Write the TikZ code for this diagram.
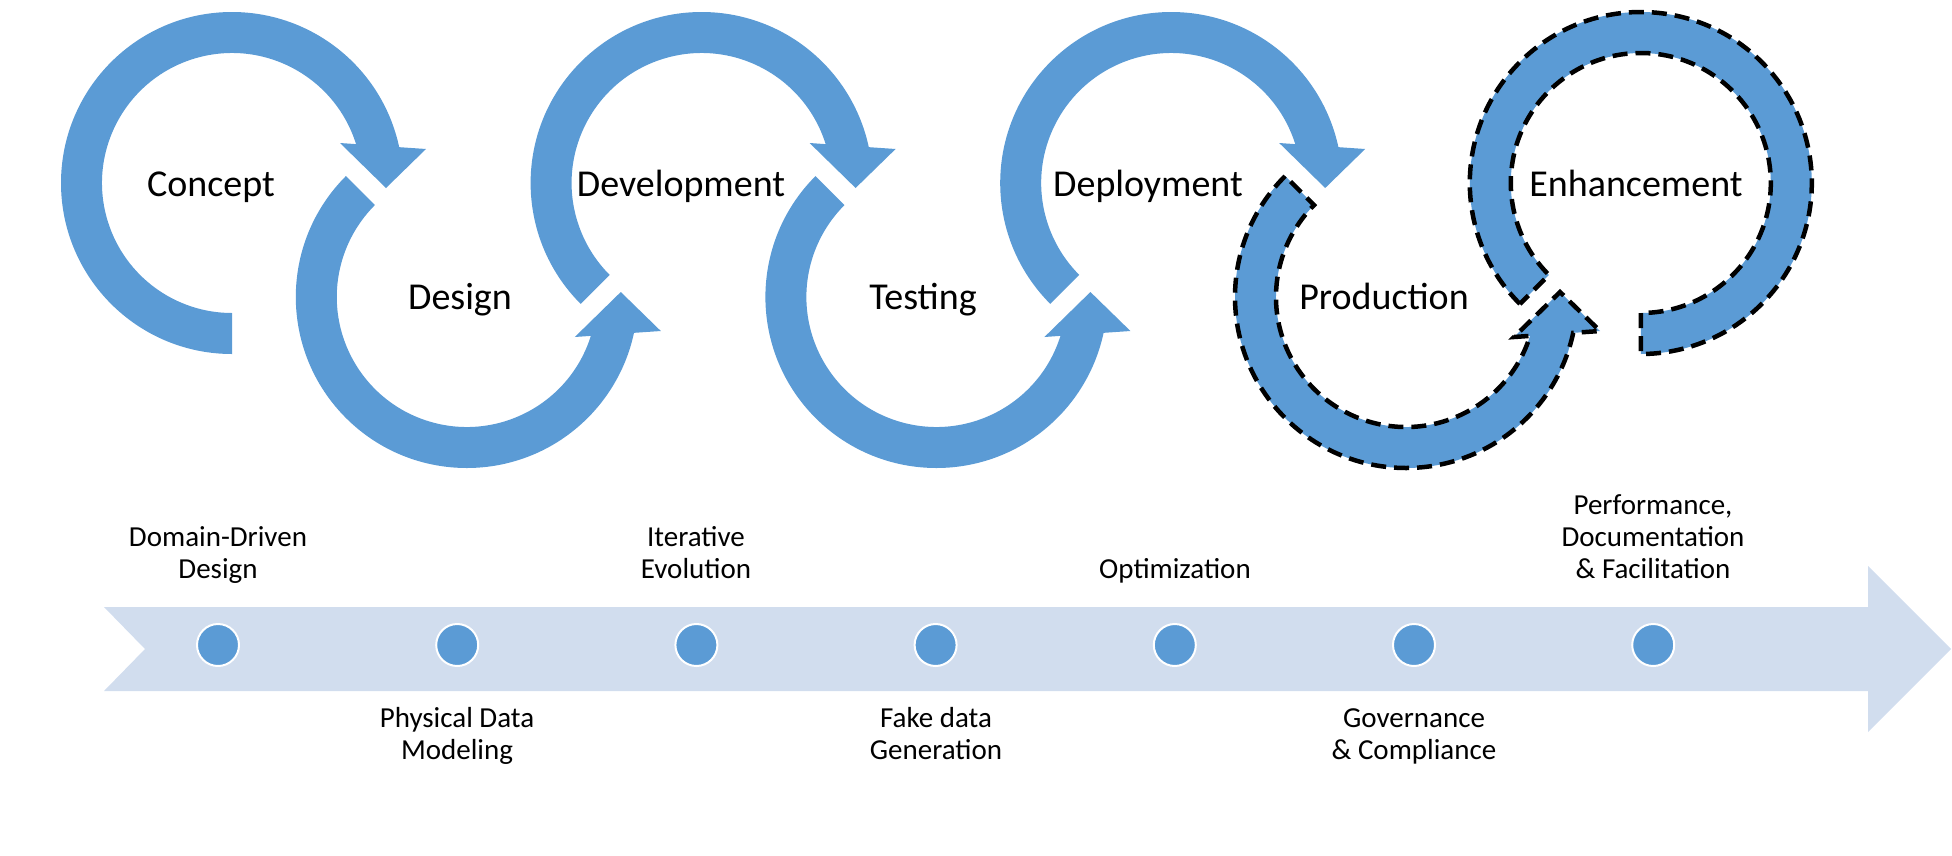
\documentclass[tikz,border=0pt]{standalone}
\usepackage{fontspec}
\setmainfont{Carlito}
\definecolor{ringblue}{HTML}{5B9BD5}
\definecolor{lineblue}{HTML}{D1DDEE}
% one ring with its head, drawn round the origin, start angle as argument
\newcommand\headring[1]{(#1:171) arc[start angle=#1,end angle=12.1,radius=171]
  -- (194,34) -- (154,-5) -- (108,40) -- (17.4:130)
  arc[start angle=17.4,end angle=#1,radius=130] -- cycle}
\begin{document}
\begin{tikzpicture}[x=1pt,y=1pt,line join=miter,
  ring/.style={fill=ringblue},
  dashring/.style={fill=ringblue,draw=black,line width=4.5pt,dash pattern=on 15pt off 8pt},
  phase/.style={font=\fontsize{38}{44}\selectfont,anchor=base,inner sep=0pt},
  milestone/.style={font=\fontsize{29}{32}\selectfont,align=center,anchor=base,inner sep=0pt},
  dot/.style={circle,fill=ringblue,draw=white,line width=2pt,minimum size=42pt,inner sep=0pt}]
\useasboundingbox (0,0) rectangle (1952,-855);

% ring centres
\foreach \n/\x/\y in {c1/232/-183, c2/466.8/-297, c3/701.6/-183, c4/936.4/-297,
  c5/1171.2/-183, c6/1406/-297, c7/1640.8/-183}
  \coordinate (\n) at (\x,\y);

% rings
\fill[ring,shift={(c1)}] \headring{270};
\fill[ring,shift={(c2)},yscale=-1] \headring{225};
\fill[ring,shift={(c3)}] \headring{225};
\fill[ring,shift={(c4)},yscale=-1] \headring{225};
\fill[ring,shift={(c5)}] \headring{225};
\filldraw[dashring,shift={(c6)},yscale=-1] \headring{225};
\filldraw[dashring,shift={(c7)}] (225:171) arc[start angle=225,end angle=-90,radius=171]
  -- (-90:130) arc[start angle=-90,end angle=225,radius=130] -- cycle;

\foreach \n/\x/\y/\t in {concept/211/-196/Concept, design/460/-309/Design,
  devel/681/-196/Development, testing/923/-309/Testing, deploy/1148/-196/Deployment,
  prod/1384/-309/Production, enhance/1636/-196/Enhancement}
  \node[phase] (\n) at (\x,\y) {\t};

% timeline
\fill[lineblue] (104,-607) -- (1868,-607) -- (1868,-566) -- (1951,-649) -- (1868,-732)
  -- (1868,-691) -- (104,-691) -- (145,-649) -- cycle;
\foreach \i in {0,...,6}
  \node[dot] (m\i) at ({218+239.2*\i},-645) {};

% labels sit on the baseline of their last line
\node[milestone] (ddd) at (218,-578) {Domain-Driven\\Design};
\node[milestone] (pdm) at (457,-759) {Physical Data\\Modeling};
\node[milestone] (iter) at (696,-578) {Iterative\\Evolution};
\node[milestone] (fake) at (936,-759) {Fake data\\Generation};
\node[milestone] (opt) at (1175,-578) {Optimization};
\node[milestone] (gov) at (1414,-759) {Governance\\\& Compliance};
\node[milestone] (perf) at (1653,-578) {Performance,\\Documentation\\\& Facilitation};
\end{tikzpicture}
\end{document}
